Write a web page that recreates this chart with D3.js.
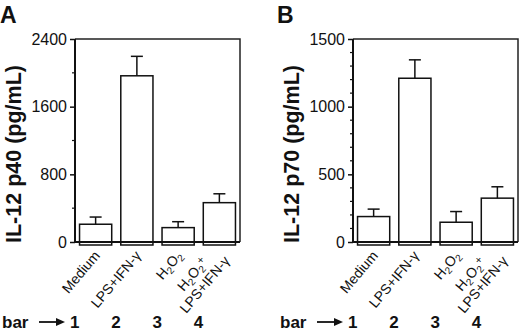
<!DOCTYPE html>
<html>
<head>
<meta charset="utf-8">
<script src="https://cdn.jsdelivr.net/npm/d3@7"></script>
<style>
  body { margin: 0; background: #fff; }
  svg { display: block; font-family: "Liberation Sans", Arial, sans-serif; }
</style>
</head>
<body>
<svg id="chart" width="520" height="332"></svg>
<script>
// bar categories (subscript marked with _x, superscript with ^x)
var categories = ["Medium", "LPS+IFN-γ", "H2O2", "H2O2+LPS+IFN-γ"];
var labelLines = [["Medium"], ["LPS+IFN-γ"], ["H_2O_2"], ["H_2O_2^+", "LPS+IFN-γ"]];
var barNumbers = ["1", "2", "3", "4"];

// panel A: IL-12 p40
var p40Mean = [210, 1965, 170, 465];
var p40Sem = [85, 230, 70, 105];
var p40Ticks = [0, 800, 1600, 2400];
var p40Minor = [400, 1200, 2000];

// panel B: IL-12 p70
var p70Mean = [188, 1210, 146, 324];
var p70Sem = [55, 136, 79, 84];
var p70Ticks = [0, 500, 1000, 1500];
var p70Minor = [100, 200, 300, 400, 600, 700, 800, 900, 1100, 1200, 1300, 1400];

var svg = d3.select("#chart");

function drawPanel(opts) {
    var left = opts.left, top = 39, bottom = 242, width = 165;

    var x = d3.scaleBand()
        .domain(categories)
        .range([left, left + width])
        .paddingInner(0.22)
        .paddingOuter(0.11);

    var y = d3.scaleLinear()
        .domain([0, opts.max])
        .range([bottom, top]);

    var g = svg.append("g");

    // frame (top + right)
    g.append("path")
        .attr("d", "M" + left + "," + top + "H" + (left + width) + "V" + bottom)
        .style("fill", "none")
        .style("stroke", "#222")
        .style("stroke-width", 1.5);

    // bars
    g.selectAll("rect.bar")
        .data(opts.mean)
        .enter()
        .append("rect")
        .attr("class", "bar")
        .attr("x", (d, i) => x(categories[i]))
        .attr("y", d => y(d))
        .attr("width", x.bandwidth())
        .attr("height", d => y(0) + 3 - y(d))
        .style("fill", "#fff")
        .style("stroke", "#111")
        .style("stroke-width", 1.5);

    // error bars (upper only)
    opts.mean.forEach(function (m, i) {
        var cx = x(categories[i]) + x.bandwidth() / 2;
        g.append("line")
            .attr("x1", cx).attr("x2", cx)
            .attr("y1", y(m)).attr("y2", y(m + opts.sem[i]))
            .style("stroke", "#111").style("stroke-width", 1.5);
        g.append("line")
            .attr("x1", cx - 6).attr("x2", cx + 6)
            .attr("y1", y(m + opts.sem[i])).attr("y2", y(m + opts.sem[i]))
            .style("stroke", "#111").style("stroke-width", 1.5);
    });

    // y axis
    var yAxis = d3.axisLeft(y)
        .tickValues(opts.ticks)
        .tickSize(5)
        .tickPadding(3)
        .tickFormat(d3.format("d"));

    var ya = g.append("g")
        .attr("transform", "translate(" + left + ",0)")
        .call(yAxis);
    ya.select(".domain").remove();
    ya.selectAll("line").style("stroke", "#111").style("stroke-width", 1.5);
    ya.selectAll("text")
        .style("font-size", "16px")
        .style("font-family", "Liberation Sans, Arial, sans-serif")
        .style("fill", "#111");

    g.selectAll("line.minor")
        .data(opts.minor)
        .enter()
        .append("line")
        .attr("class", "minor")
        .attr("x1", left - 3).attr("x2", left)
        .attr("y1", d => y(d)).attr("y2", d => y(d))
        .style("stroke", "#111").style("stroke-width", 1.2);

    // axis lines
    g.append("path")
        .attr("d", "M" + left + "," + top + "V" + y(0) + "H" + (left + width))
        .style("fill", "none")
        .style("stroke", "#111")
        .style("stroke-width", 2);

    // axis title
    g.append("text")
        .attr("transform", "translate(" + (left - 54) + "," + (top + 115) + ") rotate(-90)")
        .attr("text-anchor", "middle")
        .style("font-size", "21.5px")
        .style("font-weight", "bold")
        .style("fill", "#111")
        .text(opts.title);

    // panel letter
    g.append("text")
        .attr("x", opts.letterX)
        .attr("y", 23)
        .style("font-size", "23px")
        .style("font-weight", "bold")
        .style("fill", "#111")
        .text(opts.letter);

    // rotated category labels
    labelLines.forEach(function (lines, i) {
        var cx = x(categories[i]) + x.bandwidth() / 2;
        var lg = g.append("g")
            .attr("transform", "translate(" + (cx + 5) + ",256) rotate(-50)");
        var texts = lines.map(function (line, j) {
            var t = lg.append("text")
                .attr("text-anchor", "end")
                .attr("y", (j - (lines.length - 1) / 2) * 16)
                .style("font-size", "14px")
                .style("fill", "#111");
            addRich(t, line);
            return t;
        });
        var widths = texts.map(t => t.node().getComputedTextLength());
        var maxW = d3.max(widths);
        texts.forEach(function (t, j) {
            t.attr("x", -(maxW - widths[j]) / 2);
        });
    });

    // "bar -> 1 2 3 4" row
    g.append("text")
        .attr("x", left - 73)
        .attr("y", 328)
        .style("font-size", "17px")
        .style("font-weight", "bold")
        .style("fill", "#111")
        .text("bar");
    g.append("line")
        .attr("x1", left - 36).attr("x2", left - 17)
        .attr("y1", 322).attr("y2", 322)
        .style("stroke", "#111").style("stroke-width", 1.8);
    g.append("path")
        .attr("d", "M" + (left - 10) + ",322L" + (left - 19) + ",318L" + (left - 19) + ",326Z")
        .style("fill", "#111");
    g.selectAll("text.num")
        .data(barNumbers)
        .enter()
        .append("text")
        .attr("class", "num")
        .attr("x", (d, i) => x(categories[i]) + x.bandwidth() / 2 - 21)
        .attr("y", 328)
        .attr("text-anchor", "middle")
        .style("font-size", "17px")
        .style("font-weight", "bold")
        .style("fill", "#111")
        .text(d => d);
}

// write a label with _sub and ^sup markers as tspans
function addRich(textSel, str) {
    var parts = str.split(/([_^].)/).filter(s => s.length);
    var shift = 0;
    parts.forEach(function (p) {
        var target = 0, content = p, size = null;
        if (p[0] === "_") { target = 3; content = p[1]; size = "10px"; }
        else if (p[0] === "^") { target = -4; content = p[1]; size = "11px"; }
        var ts = textSel.append("tspan")
            .attr("dy", target - shift)
            .text(content);
        if (size) ts.style("font-size", size);
        shift = target;
    });
}

drawPanel({
    left: 75, max: 2400, ticks: p40Ticks, minor: p40Minor,
    mean: p40Mean, sem: p40Sem,
    title: "IL-12 p40 (pg/mL)", letter: "A", letterX: 0
});

drawPanel({
    left: 353, max: 1500, ticks: p70Ticks, minor: p70Minor,
    mean: p70Mean, sem: p70Sem,
    title: "IL-12 p70 (pg/mL)", letter: "B", letterX: 277
});
</script>
</body>
</html>
